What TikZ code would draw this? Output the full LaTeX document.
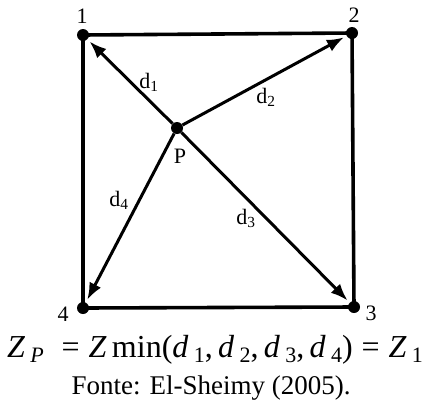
\documentclass[tikz,border=0pt]{standalone}
\usepackage{fontspec}
\setmainfont{Liberation Serif}
\usepackage{tikz}
\usetikzlibrary{arrows.meta,positioning}
\definecolor{ptink}{HTML}{000000}
\tikzset{
  pt/.style={circle,fill=ptink,inner sep=0pt,minimum size=12pt},
  edge/.style={draw=ptink,line width=3.6pt},
  dist/.style={draw=ptink,line width=3pt,-{Latex[length=17pt,width=13pt]},shorten >=3pt},
  lbl/.style={inner sep=0pt,font=\lblfont}
}
\newcommand{\lblfont}{\fontsize{22}{24}\selectfont}
\newcommand{\lowsub}[1]{\raisebox{-0.35ex}{\fontsize{22}{24}\selectfont #1}}
\begin{document}
\begin{tikzpicture}[x=1pt,y=-1pt]
  \useasboundingbox (0,0) rectangle (422,410);
  % corner points and station P
  \node[pt] (p1) at (83,35) {};
  \node[pt] (p2) at (352,33) {};
  \node[pt] (p3) at (354,307) {};
  \node[pt] (p4) at (83,308) {};
  \node[pt] (pP) at (177,128) {};
  \draw[edge] (p1.center) -- (p2.center) -- (p3.center) -- (p4.center) -- cycle;
  \draw[dist] (pP) -- (p1);
  \draw[dist] (pP) -- (p2);
  \draw[dist] (pP) -- (p3);
  \draw[dist] (pP) -- (p4);
  % labels
  \node[lbl] (l1) at (82,16) {1};
  \node[lbl] (l2) at (354,15) {2};
  \node[lbl] (l3) at (371,313) {3};
  \node[lbl] (l4) at (63,314) {4};
  \node[lbl] (lP) at (180,156) {P};
  \node[lbl] (d1) at (149,82) {d\textsubscript{1}};
  \node[lbl] (d2) at (266,97) {d\textsubscript{2}};
  \node[lbl] (d3) at (246,218) {d\textsubscript{3}};
  \node[lbl] (d4) at (119,200) {d\textsubscript{4}};
  % formula and source
  \node[font=\fontsize{32}{34}\selectfont,inner sep=0pt] (eq) at (215,350)
    {\textit{Z}\,\lowsub{\textit{P}}\;\;=\;\textit{Z}\,min(\textit{d}\,\lowsub{1},\,\textit{d}\,\lowsub{2},\,\textit{d}\,\lowsub{3},\,\textit{d}\,\lowsub{4})\;=\;\textit{Z}\,\lowsub{1}};
  \node[font=\fontsize{27}{29}\selectfont,inner sep=0pt] (src) at (211,388) {Fonte: El-Sheimy (2005).};
\end{tikzpicture}
\end{document}
